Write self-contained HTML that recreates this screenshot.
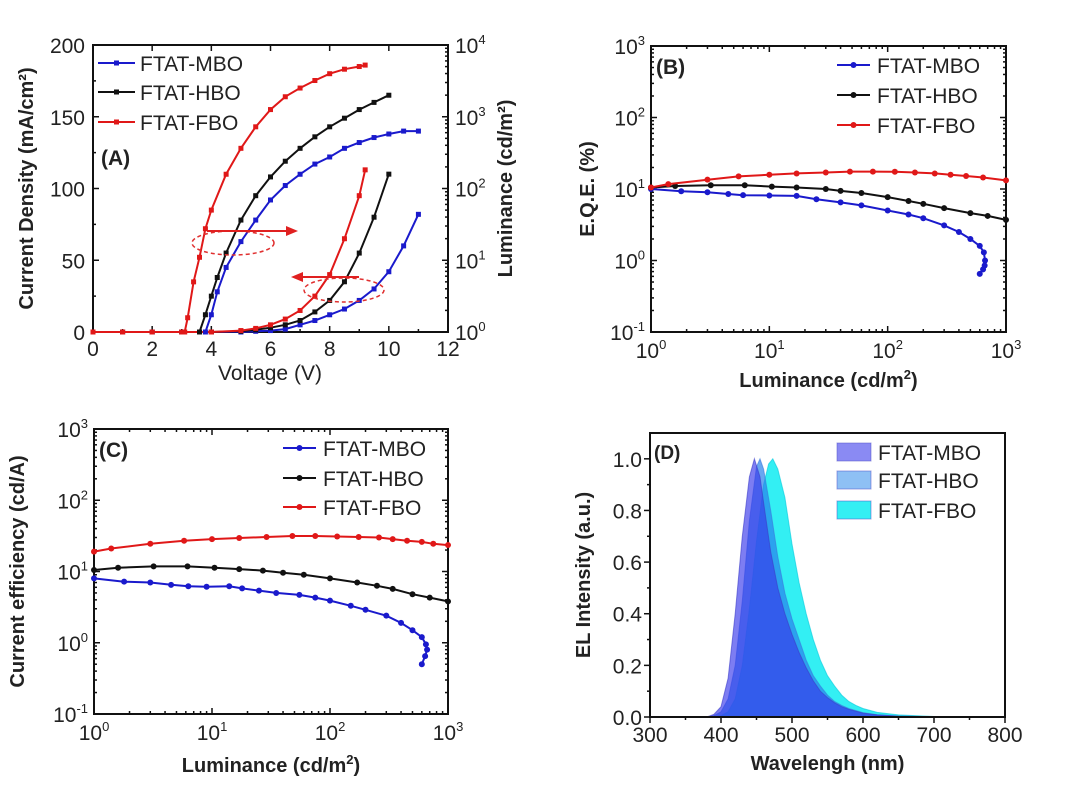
<!DOCTYPE html>
<html><head><meta charset="utf-8"><style>
html,body{margin:0;padding:0;background:#fff;}
svg{display:block;font-family:"Liberation Sans",Arial,sans-serif;}
</style></head><body>
<svg id="fig" width="1080" height="786" viewBox="0 0 1080 786" xmlns="http://www.w3.org/2000/svg"></svg>
<script>
// ---------- Panel A data ----------
const aJV_MBO_V=[0,1,2,3,4,5,5.5,6,6.5,7,7.5,8,8.5,9,9.5,10,10.5,11];
const aJV_MBO_J=[0,0,0,0,0,0,0.5,1,2,5,8,12,16,22,30,42,60,82];
const aJV_HBO_V=[0,1,2,3,4,5,5.5,6,6.5,7,7.5,8,8.5,9,9.5,10];
const aJV_HBO_J=[0,0,0,0,0,0.5,1.5,3,5,8,14,22,35,55,80,110];
const aJV_FBO_V=[0,1,2,3,4,5,5.5,6,6.5,7,7.5,8,8.5,9,9.2];
const aJV_FBO_J=[0,0,0,0,0,1,2.5,5,9,15,25,40,65,95,113];
const aLV_MBO_V=[3.8,4,4.2,4.5,5,5.5,6,6.5,7,7.5,8,8.5,9,9.5,10,10.5,11];
const aLV_MBO_L=[1,1.74,3.63,7.94,18.2,36.3,69.2,110,158,219,275,363,437,513,575,631,631];
const aLV_HBO_V=[3.6,3.8,4,4.2,4.5,5,5.5,6,6.5,7,7.5,8,8.5,9,9.5,10];
const aLV_HBO_L=[1,1.74,3.16,5.75,12.6,36.3,79.4,145,240,363,525,724,955,1259,1585,1995];
const aLV_FBO_V=[3.1,3.2,3.4,3.6,3.8,4,4.5,5,5.5,6,6.5,7,7.5,8,8.5,9,9.2];
const aLV_FBO_L=[1,1.58,5.0,11,27.5,50,158,363,724,1259,1900,2512,3200,3981,4600,5012,5248];
const aXTicks=[0,2,4,6,8,10,12];
const aYTicks=[0,50,100,150,200];
const aRTicks=[0,1,2,3,4];
// ---------- Panel B data ----------
const bMBO_L=[1,1.8,3,4.5,6,10,17,25,40,60,100,150,200,300,400,500,600,650,665,660,640,600];
const bMBO_E=[10,9.3,9,8.5,8.2,8.1,8.0,7.2,6.5,5.9,5.0,4.4,3.9,3.1,2.5,2.0,1.6,1.3,1.0,0.85,0.75,0.65];
const bHBO_L=[1,1.6,3.2,6.2,10.5,17,30,40,60,100,150,200,300,500,700,1000];
const bHBO_E=[10.5,11,11.3,11.3,10.8,10.5,10,9.4,8.8,7.7,6.8,6.2,5.4,4.6,4.2,3.7];
const bFBO_L=[1,1.4,3,5.5,10,17,30,48,75,115,170,250,340,460,640,1000];
const bFBO_E=[10.5,11.7,13.5,15,15.8,16.5,17,17.5,17.5,17.4,17,16.5,15.8,15.2,14.5,13.2];
// ---------- Panel C data ----------
const cMBO_L=[1,1.8,3,4.5,6.3,9,14,18,25,35,55,75,100,150,200,300,400,500,600,650,665,640,600];
const cMBO_E=[8,7.2,7,6.5,6.2,6.1,6.2,5.8,5.4,5,4.7,4.3,3.9,3.3,2.9,2.4,1.9,1.5,1.2,0.95,0.8,0.65,0.5];
const cHBO_L=[1,1.6,3.2,6.2,10.5,17,27,40,60,100,170,250,340,500,700,1000];
const cHBO_E=[10.5,11.3,11.8,11.8,11.3,10.8,10.3,9.6,9,8,7,6.3,5.7,4.8,4.3,3.8];
const cFBO_L=[1,1.4,3,5.8,10,17,29,48,75,115,175,260,340,450,600,750,1000];
const cFBO_E=[19,21,24.5,27,28.5,29.5,30.5,31.5,31.5,31,30.5,30,28.5,27,26,24.5,23.5];
const logXTicks=[0,1,2,3];
const logYTicks=[-1,0,1,2,3];
// ---------- Panel D data ----------
const dMBO_W=[380,390,400,410,420,430,440,447,455,460,470,480,490,500,510,520,530,540,550,560,570,580,600,620,650,700,780];
const dMBO_I=[0,0.01,0.04,0.15,0.4,0.7,0.93,1,0.93,0.83,0.64,0.5,0.4,0.32,0.25,0.19,0.14,0.1,0.075,0.055,0.04,0.03,0.015,0.008,0.003,0.001,0];
const dHBO_W=[380,390,400,410,420,430,440,450,455,460,470,480,490,500,510,520,530,540,550,560,570,580,600,620,650,700,780];
const dHBO_I=[0,0.005,0.02,0.07,0.2,0.45,0.76,0.97,1,0.96,0.8,0.62,0.48,0.38,0.3,0.22,0.16,0.12,0.085,0.06,0.045,0.033,0.017,0.009,0.004,0.001,0];
const dFBO_W=[390,400,410,420,430,440,450,460,467,473,480,490,500,510,520,530,540,550,560,570,580,590,600,620,650,700,780];
const dFBO_I=[0,0.005,0.02,0.07,0.2,0.42,0.68,0.9,0.98,1,0.96,0.85,0.67,0.52,0.4,0.3,0.22,0.16,0.12,0.085,0.06,0.045,0.033,0.018,0.008,0.002,0];
const dXTicks=[300,400,500,600,700,800];
const dYTicks=[0,0.2,0.4,0.6,0.8,1.0];

const NS="http://www.w3.org/2000/svg";
const svg=document.getElementById('fig');
function mk(tag,attrs,parent){const e=document.createElementNS(NS,tag);for(const k in attrs)e.setAttribute(k,attrs[k]);(parent||svg).appendChild(e);return e;}
function txt(x,y,s,size,anchor,weight,parent){const t=mk('text',{x:x,y:y,'font-size':size,'text-anchor':anchor||'middle','font-weight':weight||'normal',fill:'#222'},parent);t.textContent=s;return t;}
function pow10(x,y,exp,anchor,parent){const t=mk('text',{x:x,y:y,'font-size':21,'text-anchor':anchor,fill:'#222'},parent);t.appendChild(document.createTextNode('10'));const s=mk('tspan',{dy:-9,'font-size':13},t);s.textContent=String(exp);return t;}
function frame(P,g){mk('rect',{x:P.l,y:P.t,width:P.r-P.l,height:P.b-P.t,fill:'none',stroke:'#111','stroke-width':2},g);}
function tick(x1,y1,x2,y2,g){mk('line',{x1:x1,y1:y1,x2:x2,y2:y2,stroke:'#111','stroke-width':1.5},g);}
function path(pts){return pts.map((p,i)=>(i?'L':'M')+p[0].toFixed(1)+','+p[1].toFixed(1)).join(' ');}

// ===== Panel A =====
const A={l:93,r:448,t:45,b:332};
const ax=v=>A.l+v/12*(A.r-A.l);
const ayL=j=>A.b-j/200*(A.b-A.t);
const ayR=L=>A.b-Math.log10(L)/4*(A.b-A.t);
const gA=mk('g',{});


frame(A,gA);
aXTicks.forEach(v=>{tick(ax(v),A.b,ax(v),A.b-6,gA);tick(ax(v),A.t,ax(v),A.t+6,gA);txt(ax(v),A.b+24,String(v),21,'middle','normal',gA);});
for(let v=1;v<12;v+=2){tick(ax(v),A.b,ax(v),A.b-3,gA);}
aYTicks.forEach(v=>{tick(A.l,ayL(v),A.l+6,ayL(v),gA);txt(A.l-8,ayL(v)+8,String(v),21,'end','normal',gA);});
for(let v=25;v<200;v+=50){tick(A.l,ayL(v),A.l+3,ayL(v),gA);}
aRTicks.forEach(e=>{tick(A.r,ayR(Math.pow(10,e)),A.r-6,ayR(Math.pow(10,e)),gA);pow10(A.r+7,ayR(Math.pow(10,e))+8,e,'start',gA);
 if(e<4)for(let m=2;m<10;m++)tick(A.r,ayR(m*Math.pow(10,e)),A.r-3,ayR(m*Math.pow(10,e)),gA);});
const ayt=txt(0,0,'Current Density (mA/cm²)',20,'middle','bold',gA);ayt.setAttribute('transform','translate(33,'+((A.t+A.b)/2)+') rotate(-90)');
const ayr=txt(0,0,'Luminance (cd/m²)',20,'middle','bold',gA);ayr.setAttribute('transform','translate(512,'+((A.t+A.b)/2)+') rotate(-90)');
txt(270,380,'Voltage (V)',21,'middle','normal',gA);
txt(101,165,'(A)',21,'start','bold',gA);
const colA={MBO:'#1a1acc',HBO:'#111',FBO:'#e01818'};
function seriesA(V,Y,yf,color,name){
 const g=mk('g',{},gA);
 
 
 mk('path',{d:path(V.map((v,i)=>[ax(v),yf(Y[i])])),fill:'none',stroke:color,'stroke-width':2},g);
 V.forEach((v,i)=>mk('rect',{x:ax(v)-2.5,y:yf(Y[i])-2.5,width:5,height:5,fill:color},g));
}
seriesA(aJV_MBO_V,aJV_MBO_J,ayL,colA.MBO,'mbo-current-density');
seriesA(aJV_HBO_V,aJV_HBO_J,ayL,colA.HBO,'hbo-current-density');
seriesA(aJV_FBO_V,aJV_FBO_J,ayL,colA.FBO,'fbo-current-density');
seriesA(aLV_MBO_V,aLV_MBO_L,ayR,colA.MBO,'mbo-luminance');
seriesA(aLV_HBO_V,aLV_HBO_L,ayR,colA.HBO,'hbo-luminance');
seriesA(aLV_FBO_V,aLV_FBO_L,ayR,colA.FBO,'fbo-luminance');
// annotations
const an=mk('g',{},gA);


mk('ellipse',{cx:233,cy:243,rx:41,ry:12,fill:'none',stroke:'#e03030','stroke-width':1.5,'stroke-dasharray':'4,3'},an);
mk('ellipse',{cx:344,cy:290,rx:40,ry:12,fill:'none',stroke:'#e03030','stroke-width':1.5,'stroke-dasharray':'4,3'},an);
mk('line',{x1:207,y1:231,x2:290,y2:231,stroke:'#e02020','stroke-width':2},an);
mk('polygon',{points:'298,231 286,226 286,236',fill:'#e02020'},an);
mk('line',{x1:359,y1:277,x2:299,y2:277,stroke:'#e02020','stroke-width':2},an);
mk('polygon',{points:'291,277 303,272 303,282',fill:'#e02020'},an);
// legend A
[['FTAT-MBO',colA.MBO,63],['FTAT-HBO',colA.HBO,92],['FTAT-FBO',colA.FBO,122]].forEach(([n,c,y])=>{
 const g=mk('g',{},gA);
 
 
 mk('line',{x1:98,y1:y,x2:135,y2:y,stroke:c,'stroke-width':2},g);
 mk('rect',{x:114,y:y-2.5,width:5,height:5,fill:c},g);
 txt(140,y+8,n,21,'start','normal',g);
});

// ===== Log panels B & C =====
function logPanel(P,name,label,ytitle,yTitleX,xTitleY,series,leg){
 const g=mk('g',{});
 
 
 const xf=L=>P.l+Math.log10(L)/3*(P.r-P.l);
 const yf=v=>P.b-(Math.log10(v)+1)/4*(P.b-P.t);
 frame(P,g);
 logXTicks.forEach(e=>{const x=xf(Math.pow(10,e));tick(x,P.b,x,P.b-6,g);tick(x,P.t,x,P.t+6,g);pow10(x,P.b+26,e,'middle',g);
  if(e<3)for(let m=2;m<10;m++){const xm=xf(m*Math.pow(10,e));tick(xm,P.b,xm,P.b-3,g);tick(xm,P.t,xm,P.t+3,g);}});
 logYTicks.forEach(e=>{const y=yf(Math.pow(10,e));tick(P.l,y,P.l+6,y,g);tick(P.r,y,P.r-6,y,g);pow10(P.l-6,y+8,e,'end',g);
  if(e<3)for(let m=2;m<10;m++){const ym=yf(m*Math.pow(10,e));tick(P.l,ym,P.l+3,ym,g);tick(P.r,ym,P.r-3,ym,g);}});
 const yt=txt(0,0,ytitle,20,'middle','bold',g);yt.setAttribute('transform','translate('+yTitleX+','+((P.t+P.b)/2)+') rotate(-90)');
 const xt=txt((P.l+P.r)/2,xTitleY,'Luminance (cd/m',20,'middle','bold',g);const sp=mk('tspan',{dy:-8,'font-size':13},xt);sp.textContent='2';const sp2=mk('tspan',{dy:8},xt);sp2.textContent=')';
 txt(P.l+5,P.t+28,label,21,'start','bold',g);
 series.forEach(([X,Y,c,n])=>{
  const s=mk('g',{},g);
  
  
  mk('path',{d:path(X.map((x,i)=>[xf(x),yf(Y[i])])),fill:'none',stroke:c,'stroke-width':2},s);
  X.forEach((x,i)=>mk('circle',{cx:xf(x),cy:yf(Y[i]),r:3,fill:c},s));
 });
 leg.forEach(([n,c,y,x1,x2])=>{
  const l=mk('g',{},g);
  
  
  mk('line',{x1:x1,y1:y,x2:x2,y2:y,stroke:c,'stroke-width':2},l);
  mk('circle',{cx:(x1+x2)/2,cy:y,r:3,fill:c},l);
  txt(x2+7,y+8,n,21,'start','normal',l);
 });
}
logPanel({l:651,r:1006,t:46,b:332},'panel-b','(B)','E.Q.E. (%)',594,387,
 [[bMBO_L,bMBO_E,'#1a1acc','mbo-eqe'],[bHBO_L,bHBO_E,'#111','hbo-eqe'],[bFBO_L,bFBO_E,'#e01818','fbo-eqe']],
 [['FTAT-MBO','#1a1acc',65,837,870],['FTAT-HBO','#111',95,837,870],['FTAT-FBO','#e01818',125,837,870]]);
logPanel({l:94,r:448,t:429,b:714},'panel-c','(C)','Current efficiency (cd/A)',24,772,
 [[cMBO_L,cMBO_E,'#1a1acc','mbo-current-efficiency'],[cHBO_L,cHBO_E,'#111','hbo-current-efficiency'],[cFBO_L,cFBO_E,'#e01818','fbo-current-efficiency']],
 [['FTAT-MBO','#1a1acc',448,283,316],['FTAT-HBO','#111',478,283,316],['FTAT-FBO','#e01818',507,283,316]]);

// ===== Panel D =====
const D={l:650,r:1005,t:433,b:717};
const dx=w=>D.l+(w-300)/500*(D.r-D.l);
const dy=v=>D.b-v/1.1*(D.b-D.t);
const gD=mk('g',{});


function area(W,I,fill,stroke,n){
 const p=mk('path',{d:path(W.map((w,i)=>[dx(w),dy(I[i])]))+' L'+dx(W[W.length-1])+','+dy(0)+' L'+dx(W[0])+','+dy(0)+' Z',fill:fill,stroke:stroke,'stroke-width':1},gD);
 
 
}
area(dFBO_W,dFBO_I,'rgba(0,235,240,0.8)','rgba(0,200,220,0.6)','fbo-spectrum');
area(dHBO_W,dHBO_I,'rgba(40,130,235,0.7)','rgba(60,120,220,0.6)','hbo-spectrum');
area(dMBO_W,dMBO_I,'rgba(55,55,235,0.65)','rgba(60,60,200,0.6)','mbo-spectrum');
frame(D,gD);
dXTicks.forEach(v=>{tick(dx(v),D.b,dx(v),D.b+6,gD);txt(dx(v),D.b+25,String(v),21,'middle','normal',gD);});
for(let v=350;v<800;v+=100)tick(dx(v),D.b,dx(v),D.b+3,gD);
dYTicks.forEach(v=>{tick(D.l,dy(v),D.l-6,dy(v),gD);txt(D.l-8,dy(v)+8,v.toFixed(1),21,'end','normal',gD);});
for(let v=0.1;v<1.05;v+=0.2)tick(D.l,dy(v),D.l-3,dy(v),gD);
const dyt=txt(0,0,'EL Intensity (a.u.)',20,'middle','bold',gD);dyt.setAttribute('transform','translate(590,'+((D.t+D.b)/2)+') rotate(-90)');
txt((D.l+D.r)/2,770,'Wavelengh (nm)',20,'middle','bold',gD);
txt(654,459,'(D)',19,'start','bold',gD);
[['FTAT-MBO','rgba(60,60,235,0.6)',452],['FTAT-HBO','rgba(50,140,235,0.55)',480],['FTAT-FBO','rgba(0,235,240,0.8)',510]].forEach(([n,c,y])=>{
 const l=mk('g',{},gD);
 
 
 mk('rect',{x:837,y:y-9,width:34,height:18,fill:c,stroke:'rgba(80,80,200,0.5)'},l);
 txt(878,y+8,n,21,'start','normal',l);
});
</script>
</body></html>
